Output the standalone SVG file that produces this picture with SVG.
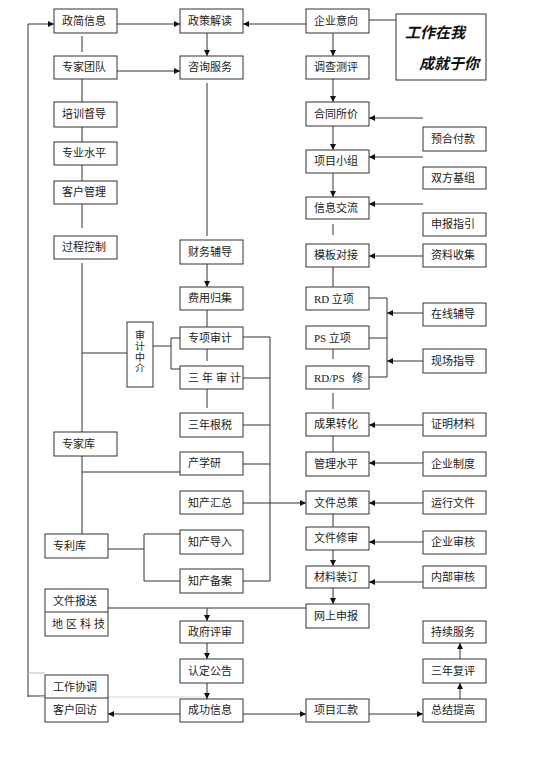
<svg xmlns="http://www.w3.org/2000/svg" width="547" height="768" viewBox="0 0 547 768">
<style>
.box{fill:#fff;stroke:#333;stroke-width:1}
.t{font-family:"Noto Sans CJK SC","Liberation Sans",sans-serif;font-size:11px;fill:#222}
.v{font-family:"Noto Sans CJK SC","Liberation Sans",sans-serif;font-size:10px;fill:#222;writing-mode:vertical-rl;letter-spacing:1px}
.sp{letter-spacing:3px}
.serif{font-family:"Liberation Serif",serif}
.ln{stroke:#333;stroke-width:1;fill:none}
.ar{stroke:#333;stroke-width:1;fill:none;marker-end:url(#ah)}
.slogan{font-family:"Noto Sans CJK SC",sans-serif;font-size:15px;font-style:italic;font-weight:bold;fill:#111}
</style>
<defs>
<marker id="ah" markerWidth="6" markerHeight="6" refX="6" refY="3" orient="auto" markerUnits="userSpaceOnUse">
<path d="M0,0 L6,3 L0,6 z" fill="#111"/>
</marker>
</defs>
<rect width="547" height="768" fill="#fff"/>

<g id="connectors">
<path class="ar" d="M28,697 V24 H54"/>
<path class="ln" d="M28,673 H45" style="stroke:#bbb"/>
<path class="ln" d="M28,696 H45"/>
<path class="ln" d="M40,697 H207" style="stroke:#c8d8ec"/>
<path class="ar" d="M117,24 H180"/>
<path class="ar" d="M306,24 H243"/>
<path class="ln" d="M369,20 H396"/>
<path class="ar" d="M207,33 V56"/>
<path class="ar" d="M117,71 H180"/>
<path class="ln" d="M82,36 V52"/>
<path class="ln" d="M82,79 V102"/>
<path class="ln" d="M82,127 V142"/>
<path class="ln" d="M82,165 V181"/>
<path class="ln" d="M82,204 V228"/>
<path class="ln" d="M82,263 V432"/>
<path class="ln" d="M82,353 H127"/>
<path class="ln" d="M207,83 V236"/>
<path class="ar" d="M207,264 V287"/>
<path class="ln" d="M207,310 V327"/>
<path class="ln" d="M153,346 H171"/>
<path class="ln" d="M180,338 H171 V369 H180"/>
<path class="ln" d="M207,349 V361"/>
<path class="ln" d="M207,389 V408"/>
<path class="ln" d="M243,337 H270 V581 H243"/>
<path class="ln" d="M243,378 H270"/>
<path class="ln" d="M243,425 H270"/>
<path class="ln" d="M243,464 H270"/>
<path class="ar" d="M243,503 H306"/>
<path class="ln" d="M82,456 V534"/>
<path class="ln" d="M82,472 H180"/>
<path class="ln" d="M108,549 H144"/>
<path class="ln" d="M180,534 H144 V581 H180"/>
<path class="ln" d="M108,608 H306"/>
<path class="ar" d="M207,608 V621"/>
<path class="ar" d="M207,643 V659"/>
<path class="ar" d="M207,683 V699"/>
<path class="ar" d="M180,714 H108"/>
<path class="ar" d="M243,714 H306"/>
<path class="ar" d="M369,714 H423"/>
<path class="ar" d="M460,699 V683"/>
<path class="ar" d="M460,659 V643"/>
<path class="ar" d="M333,33 V56"/>
<path class="ar" d="M333,79 V102"/>
<path class="ar" d="M333,126 V150"/>
<path class="ar" d="M333,173 V197"/>
<path class="ar" d="M423,118 H369"/>
<path class="ar" d="M423,157 H369"/>
<path class="ar" d="M423,204 H369"/>
<path class="ar" d="M423,256 H369"/>
<path class="ln" d="M333,224 V235"/>
<path class="ln" d="M333,267 V291"/>
<path class="ln" d="M369,298 H387 V377 H369"/>
<path class="ln" d="M369,338 H387"/>
<path class="ar" d="M423,313 H387"/>
<path class="ar" d="M423,361 H387"/>
<path class="ln" d="M333,349 V359"/>
<path class="ln" d="M333,393 V409"/>
<path class="ar" d="M423,425 H369"/>
<path class="ln" d="M333,436 V452"/>
<path class="ar" d="M423,463 H369"/>
<path class="ar" d="M423,503 H369"/>
<path class="ln" d="M333,514 V527"/>
<path class="ar" d="M423,542 H369"/>
<path class="ar" d="M333,550 V566"/>
<path class="ar" d="M423,582 H369"/>
<path class="ar" d="M333,588 V604"/>
</g>

<!-- left column -->
<g id="n-zjxx"><rect class="box" x="54" y="9" width="63" height="24"/><text class="t" x="62" y="25">政简信息</text></g>
<g id="n-zjtd"><rect class="box" x="54" y="56" width="63" height="23"/><text class="t" x="62" y="71">专家团队</text></g>
<g id="n-pxdd"><rect class="box" x="54" y="102" width="63" height="25"/><text class="t" x="62" y="118">培训督导</text></g>
<g id="n-zysp"><rect class="box" x="54" y="142" width="63" height="23"/><text class="t" x="62" y="157">专业水平</text></g>
<g id="n-khgl"><rect class="box" x="54" y="181" width="63" height="23"/><text class="t" x="62" y="196">客户管理</text></g>
<g id="n-gckz"><rect class="box" x="54" y="236" width="63" height="23"/><text class="t" x="62" y="251">过程控制</text></g>
<g id="n-zjk"><rect class="box" x="54" y="432" width="63" height="24"/><text class="t" x="62" y="448">专家库</text></g>
<g id="n-zlk"><rect class="box" x="45" y="534" width="63" height="24"/><text class="t" x="53" y="550">专利库</text></g>
<g id="n-wjbs"><rect class="box" x="45" y="589" width="63" height="47"/><line class="ln" x1="45" y1="612" x2="108" y2="612"/><text class="t" x="53" y="605">文件报送</text><text class="t sp" x="52" y="628">地区科技</text></g>
<g id="n-gzxt"><rect class="box" x="45" y="675" width="63" height="47"/><line class="ln" x1="45" y1="698" x2="108" y2="698"/><text class="t" x="53" y="691">工作协调</text><text class="t" x="53" y="714">客户回访</text></g>

<!-- middle column -->
<g id="n-zcjd"><rect class="box" x="180" y="9" width="63" height="24"/><text class="t" x="188" y="25">政策解读</text></g>
<g id="n-zxfw"><rect class="box" x="180" y="56" width="63" height="23"/><text class="t" x="188" y="71">咨询服务</text></g>
<g id="n-cwfd"><rect class="box" x="180" y="240" width="63" height="24"/><text class="t" x="188" y="256">财务辅导</text></g>
<g id="n-fygj"><rect class="box" x="180" y="287" width="63" height="23"/><text class="t" x="188" y="302">费用归集</text></g>
<g id="n-zxsj"><rect class="box" x="180" y="327" width="63" height="22"/><text class="t" x="188" y="342">专项审计</text></g>
<g id="n-snsj"><rect class="box" x="180" y="366" width="63" height="23"/><text class="t sp" x="188" y="382">三年审计</text></g>
<g id="n-sngs"><rect class="box" x="180" y="413" width="63" height="24"/><text class="t" x="188" y="429">三年根税</text></g>
<g id="n-cxy"><rect class="box" x="180" y="452" width="63" height="23"/><text class="t" x="188" y="467">产学研</text></g>
<g id="n-zchz"><rect class="box" x="180" y="491" width="63" height="23"/><text class="t" x="188" y="507">知产汇总</text></g>
<g id="n-zcdr"><rect class="box" x="180" y="530" width="63" height="24"/><text class="t" x="188" y="546">知产导入</text></g>
<g id="n-zcba"><rect class="box" x="180" y="569" width="63" height="24"/><text class="t" x="188" y="585">知产备案</text></g>
<g id="n-zfps"><rect class="box" x="180" y="621" width="63" height="22"/><text class="t" x="188" y="636">政府评审</text></g>
<g id="n-rdgg"><rect class="box" x="180" y="659" width="63" height="24"/><text class="t" x="188" y="675">认定公告</text></g>
<g id="n-cgxx"><rect class="box" x="180" y="699" width="63" height="23"/><text class="t" x="188" y="714">成功信息</text></g>
<g id="n-sjzj"><rect class="box" x="127" y="322" width="26" height="65"/>
<text class="v" x="140" y="330">审计中介</text></g>

<!-- right column -->
<g id="n-qyyx"><rect class="box" x="306" y="9" width="63" height="24"/><text class="t" x="314" y="25">企业意向</text></g>
<g id="n-dccp"><rect class="box" x="306" y="56" width="63" height="23"/><text class="t" x="314" y="71">调查测评</text></g>
<g id="n-htsj"><rect class="box" x="306" y="102" width="63" height="24"/><text class="t" x="314" y="118">合同所价</text></g>
<g id="n-xmxz"><rect class="box" x="306" y="150" width="63" height="23"/><text class="t" x="314" y="165">项目小组</text></g>
<g id="n-xxjl"><rect class="box" x="306" y="197" width="63" height="22"/><text class="t" x="314" y="212">信息交流</text></g>
<g id="n-mbdj"><rect class="box" x="306" y="244" width="63" height="23"/><text class="t" x="314" y="259">模板对接</text></g>
<g id="n-rdlx"><rect class="box" x="306" y="287" width="63" height="23"/><text class="t" x="314" y="303"><tspan class="serif">RD</tspan> 立项</text></g>
<g id="n-pslx"><rect class="box" x="306" y="326" width="63" height="23"/><text class="t" x="314" y="342"><tspan class="serif">PS</tspan> 立项</text></g>
<g id="n-rdps"><rect class="box" x="306" y="366" width="63" height="23"/><text class="t" x="314" y="382" xml:space="preserve"><tspan class="serif">RD/PS</tspan>   修</text></g>
<g id="n-cgzh"><rect class="box" x="306" y="413" width="63" height="23"/><text class="t" x="314" y="428">成果转化</text></g>
<g id="n-glsp"><rect class="box" x="306" y="452" width="63" height="24"/><text class="t" x="314" y="468">管理水平</text></g>
<g id="n-wjzc"><rect class="box" x="306" y="491" width="63" height="23"/><text class="t" x="314" y="507">文件总策</text></g>
<g id="n-wjxs"><rect class="box" x="306" y="527" width="63" height="23"/><text class="t" x="314" y="542">文件修审</text></g>
<g id="n-clzd"><rect class="box" x="306" y="566" width="63" height="22"/><text class="t" x="314" y="581">材料装订</text></g>
<g id="n-wssb"><rect class="box" x="306" y="604" width="63" height="24"/><text class="t" x="314" y="620">网上申报</text></g>
<g id="n-xmhk"><rect class="box" x="306" y="699" width="63" height="23"/><text class="t" x="314" y="714">项目汇款</text></g>

<!-- far right column -->
<g id="n-slogan"><rect class="box" x="396" y="14" width="90" height="66"/><text class="slogan" x="405" y="38">工作在我</text><text class="slogan" x="419" y="69">成就于你</text></g>
<g id="n-yhfk"><rect class="box" x="423" y="127" width="63" height="24"/><text class="t" x="431" y="143">预合付款</text></g>
<g id="n-sfjz"><rect class="box" x="423" y="167" width="63" height="22"/><text class="t" x="431" y="182">双方基组</text></g>
<g id="n-sbzy"><rect class="box" x="423" y="213" width="63" height="23"/><text class="t" x="431" y="228">申报指引</text></g>
<g id="n-zlsj"><rect class="box" x="423" y="244" width="63" height="23"/><text class="t" x="431" y="259">资料收集</text></g>
<g id="n-zxfd"><rect class="box" x="423" y="303" width="63" height="23"/><text class="t" x="431" y="318">在线辅导</text></g>
<g id="n-xczd"><rect class="box" x="423" y="349" width="63" height="24"/><text class="t" x="431" y="365">现场指导</text></g>
<g id="n-zmcl"><rect class="box" x="423" y="413" width="63" height="23"/><text class="t" x="431" y="428">证明材料</text></g>
<g id="n-qyzd"><rect class="box" x="423" y="452" width="63" height="24"/><text class="t" x="431" y="468">企业制度</text></g>
<g id="n-yxwj"><rect class="box" x="423" y="491" width="63" height="23"/><text class="t" x="431" y="507">运行文件</text></g>
<g id="n-qysh"><rect class="box" x="423" y="531" width="63" height="23"/><text class="t" x="431" y="546">企业审核</text></g>
<g id="n-nbsh"><rect class="box" x="423" y="566" width="63" height="22"/><text class="t" x="431" y="581">内部审核</text></g>
<g id="n-cxfw"><rect class="box" x="423" y="621" width="63" height="22"/><text class="t" x="431" y="636">持续服务</text></g>
<g id="n-snfp"><rect class="box" x="423" y="659" width="63" height="24"/><text class="t" x="431" y="675">三年复评</text></g>
<g id="n-zjtg"><rect class="box" x="423" y="699" width="63" height="23"/><text class="t" x="431" y="714">总结提高</text></g>
</svg>
